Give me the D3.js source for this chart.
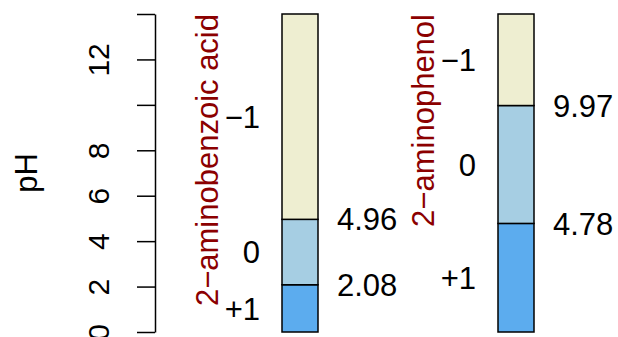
<!DOCTYPE html>
<html lang="en">
<head>
    <meta charset="UTF-8">
    <title>pH speciation bars</title>
    <script src="https://d3js.org/d3.v7.min.js"></script>
    <style>
        body { margin: 0; background: #fff; }
        svg { display: block; font-family: "Liberation Sans", Arial, sans-serif; }
    </style>
</head>
<body>
    <div id="chart"></div>
    <script>
        // Data
        const species = ["2\u2212aminobenzoic acid", "2\u2212aminophenol"];
        const pKa = [[2.08, 4.96], [4.78, 9.97]];
        const pKaLabels = [["2.08", "4.96"], ["4.78", "9.97"]];
        const charges = [["+1", "0", "\u22121"], ["+1", "0", "\u22121"]];
        const fills = ["#5CACEE", "#A6CEE3", "#EEEED1"];
        const yTicks = [0, 2, 4, 6, 8, 10, 12, 14];
        const yTickLabels = ["0", "2", "4", "6", "8", "", "12", ""];
        const pHRange = [0, 14];

        // Dimensions
        const width = 618, height = 337;
        const barW = 36;

        const y = d3.scaleLinear().domain(pHRange).range([332, 14]);
        const x = d3.scalePoint().domain(species).range([300, 516]);

        const svg = d3.select("#chart")
            .append("svg")
            .attr("width", width)
            .attr("height", height);

        // Y axis
        const axis = svg.append("g")
            .attr("transform", "translate(155,0)")
            .call(d3.axisLeft(y)
                .tickValues(yTicks)
                .tickSize(18)
                .tickSizeOuter(0)
                .tickFormat((d, i) => yTickLabels[i]));
        axis.selectAll("path, line").attr("stroke", "#000").attr("stroke-width", 1.5);
        axis.selectAll("text")
            .attr("x", 0)
            .attr("dy", 0)
            .attr("fill", "#000")
            .attr("font-size", "30px")
            .attr("font-family", "Liberation Sans, Arial, sans-serif")
            .attr("text-anchor", "middle")
            .attr("transform", "translate(-46,0) rotate(-90)");

        // Axis title
        svg.append("text")
            .attr("transform", `translate(37,${(y(0) + y(14)) / 2}) rotate(-90)`)
            .attr("text-anchor", "middle")
            .attr("font-size", "31px")
            .text("pH");

        species.forEach((s, i) => {
            const cx = x(s);
            const bounds = [pHRange[0], ...pKa[i], pHRange[1]];

            // Stacked species regions
            const segs = d3.range(bounds.length - 1).map(j => ({
                lo: bounds[j], hi: bounds[j + 1], fill: fills[j], charge: charges[i][j]
            }));

            svg.selectAll(null)
                .data(segs)
                .join("rect")
                .attr("x", cx - barW / 2)
                .attr("y", d => y(d.hi))
                .attr("width", barW)
                .attr("height", d => y(d.lo) - y(d.hi))
                .attr("fill", d => d.fill)
                .attr("stroke", "#000")
                .attr("stroke-width", 1.5);

            // Charge labels
            svg.selectAll(null)
                .data(segs)
                .join("text")
                .attr("x", cx - barW / 2 - 22)
                .attr("y", d => y((d.lo + d.hi) / 2))
                .attr("dy", "0.36em")
                .attr("text-anchor", "end")
                .attr("font-size", "31px")
                .text(d => d.charge);

            // pKa labels
            svg.selectAll(null)
                .data(pKa[i])
                .join("text")
                .attr("x", cx + barW / 2 + 19)
                .attr("y", d => y(d))
                .attr("dy", "0.36em")
                .attr("font-size", "31px")
                .text((d, j) => pKaLabels[i][j]);

            // Species name
            svg.append("text")
                .attr("transform", `translate(${cx - barW / 2 - 64},${y(14)}) rotate(-90)`)
                .attr("text-anchor", "end")
                .attr("font-size", "31px")
                .attr("fill", "#8B0000")
                .text(s);
        });
    </script>
</body>
</html>
